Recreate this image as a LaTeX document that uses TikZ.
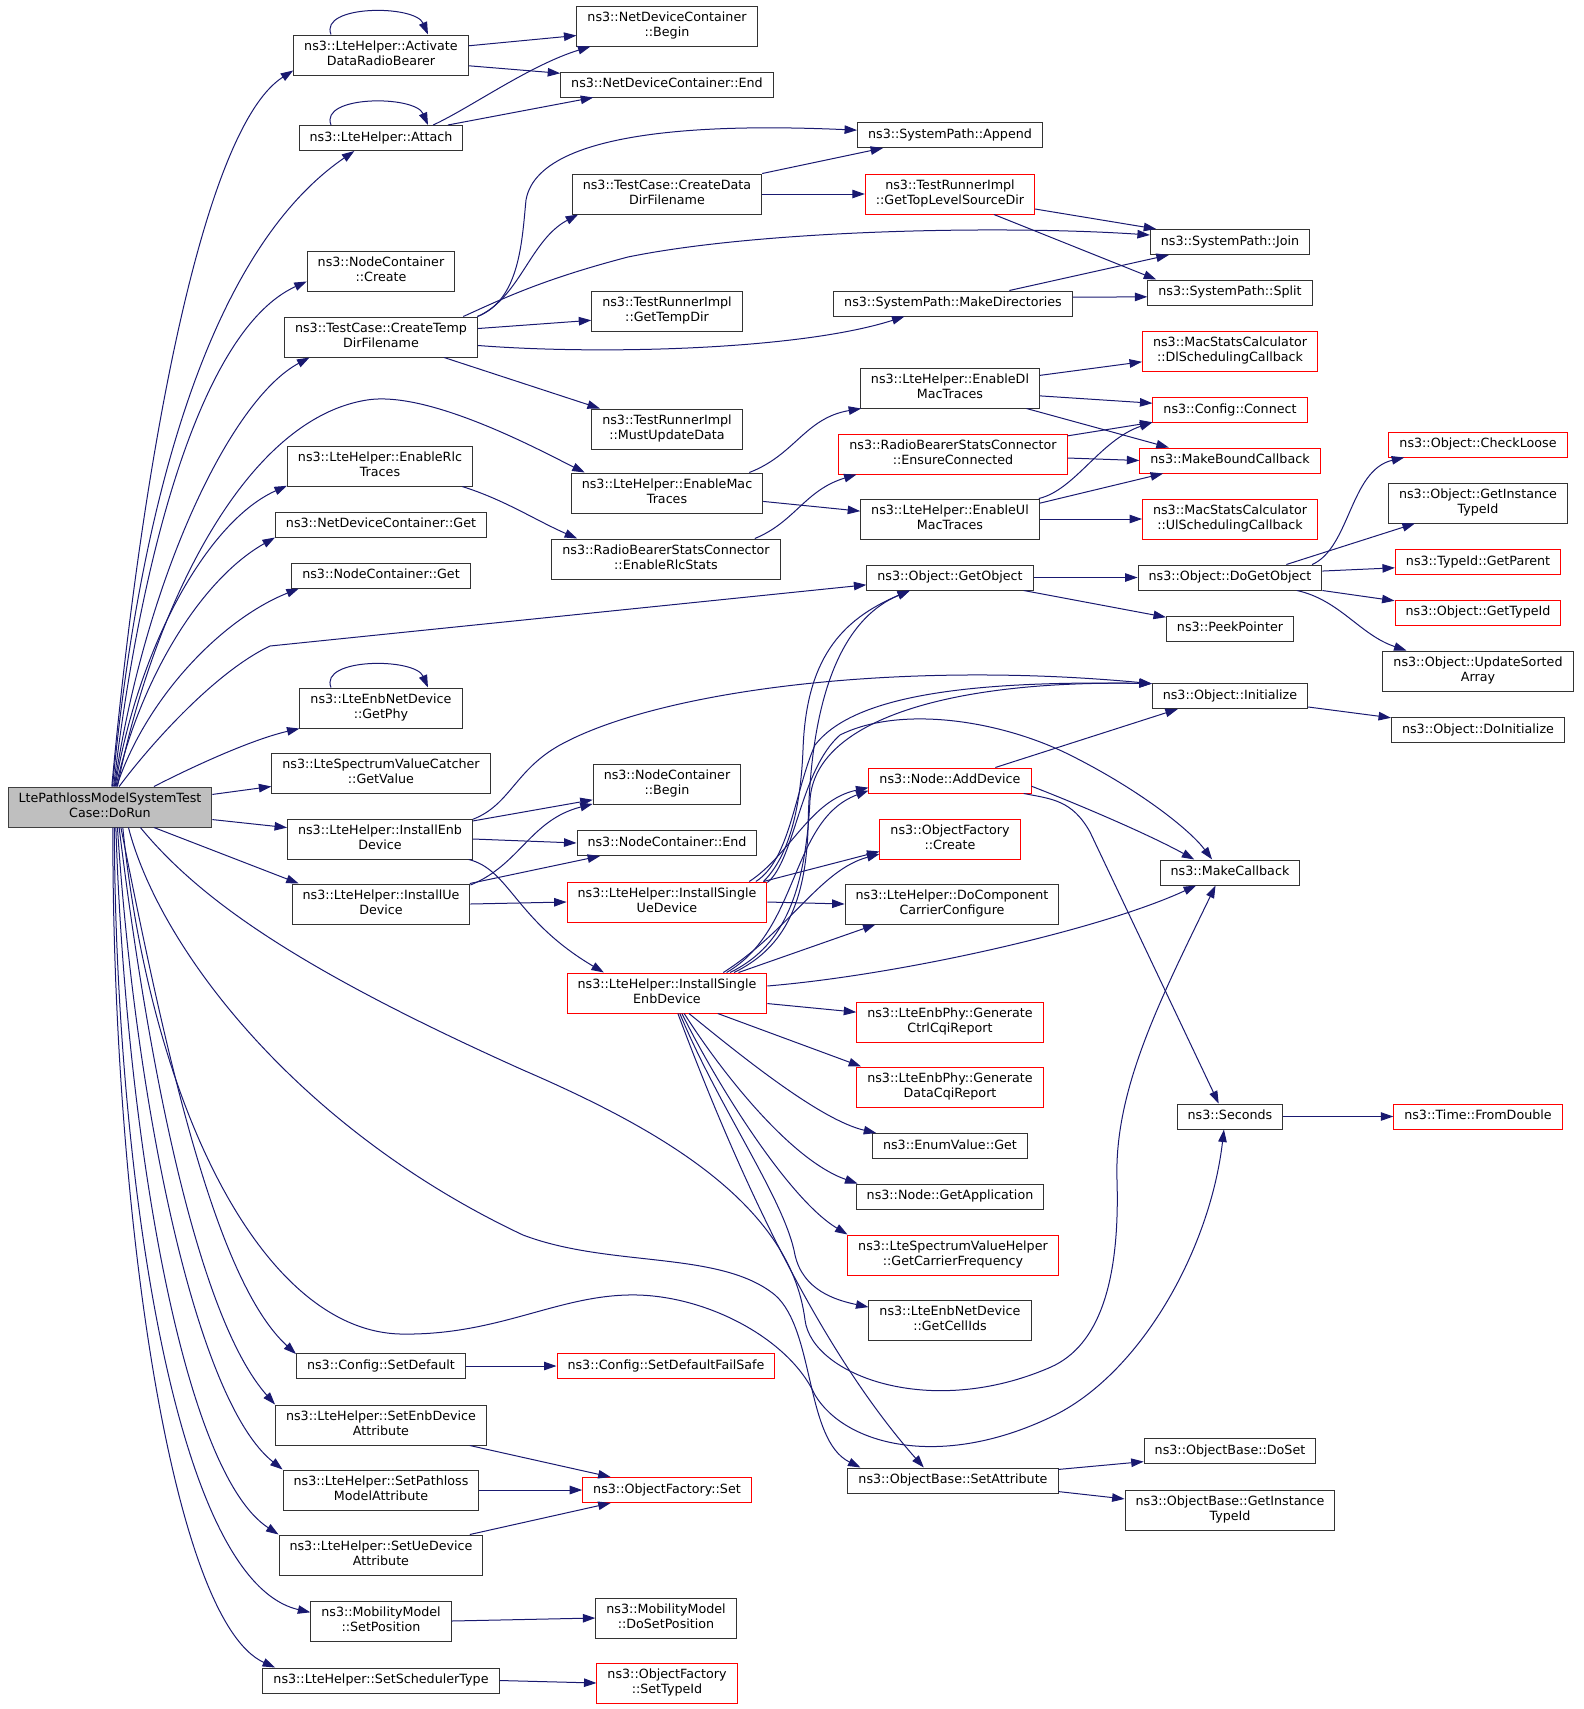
\documentclass[tikz,border=0pt]{standalone}
\usepackage{fontspec}
\usetikzlibrary{arrows.meta,calc}
\newfontfamily\dotfont{DejaVu Sans}
\definecolor{edgeblue}{HTML}{191970}
\definecolor{rootfill}{HTML}{BFBFBF}
\def\fnsize{12.7}
\newcommand{\twoline}[2]{\strut#1\\\strut#2}

\begin{document}
\begin{tikzpicture}[x=1pt,y=-1pt,>={Triangle[length=12.5pt,width=8.5pt]}]
    \tikzstyle{fn}=[rectangle,draw=black!80,line width=1pt,font={\dotfont\fontsize{\fnsize}{15}\selectfont},align=center,inner xsep=10.5pt,inner ysep=5pt,execute at begin node=\strut]
    \tikzstyle{red fn}=[fn,draw=red]
    \tikzstyle{root fn}=[fn,fill=rootfill,draw=black!75]
    \tikzstyle{edge}=[->,draw=edgeblue,line width=1pt]

    \useasboundingbox (0,0) rectangle (1584,1709);

    % The function that is graphed
    \node[root fn] (dorun) at (110,807) {\twoline{LtePathlossModelSystemTest}{Case::DoRun}};

    % Draw the documented callees
    \foreach \name/\x/\y/\txt in {
        adrb/381/55/{\twoline{ns3::LteHelper::Activate}{DataRadioBearer}},
        attach/381/138/{ns3::LteHelper::Attach},
        ncCreate/381/271/{\twoline{ns3::NodeContainer}{::Create}},
        tmpDir/381/337/{\twoline{ns3::TestCase::CreateTemp}{DirFilename}},
        rlcTr/380/466/{\twoline{ns3::LteHelper::EnableRlc}{Traces}},
        ndcGet/381/524.5/{ns3::NetDeviceContainer::Get},
        ncGet/381/575.5/{ns3::NodeContainer::Get},
        getPhy/381/708/{\twoline{ns3::LteEnbNetDevice}{::GetPhy}},
        getVal/381/773/{\twoline{ns3::LteSpectrumValueCatcher}{::GetValue}},
        instEnb/380/839/{\twoline{ns3::LteHelper::InstallEnb}{Device}},
        instUe/381/904/{\twoline{ns3::LteHelper::InstallUe}{Device}},
        setDef/381/1366/{ns3::Config::SetDefault},
        setEnbAttr/381/1425/{\twoline{ns3::LteHelper::SetEnbDevice}{Attribute}},
        setPlAttr/381/1490/{\twoline{ns3::LteHelper::SetPathloss}{ModelAttribute}},
        setUeAttr/381/1555/{\twoline{ns3::LteHelper::SetUeDevice}{Attribute}},
        setPos/381/1621/{\twoline{ns3::MobilityModel}{::SetPosition}},
        setSched/381/1680.5/{ns3::LteHelper::SetSchedulerType},
        ndcBegin/667/26/{\twoline{ns3::NetDeviceContainer}{::Begin}},
        ndcEnd/667/84.5/{ns3::NetDeviceContainer::End},
        dataDir/667/194/{\twoline{ns3::TestCase::CreateData}{DirFilename}},
        tempDir/667/311/{\twoline{ns3::TestRunnerImpl}{::GetTempDir}},
        mustUpd/667/429/{\twoline{ns3::TestRunnerImpl}{::MustUpdateData}},
        macTr/667/493/{\twoline{ns3::LteHelper::EnableMac}{Traces}},
        rlcStats/666/559/{\twoline{ns3::RadioBearerStatsConnector}{::EnableRlcStats}},
        ncBegin/667/784/{\twoline{ns3::NodeContainer}{::Begin}},
        ncEnd/667/843/{ns3::NodeContainer::End},
        doSetPos/666/1618/{\twoline{ns3::MobilityModel}{::DoSetPosition}},
        append/950/135/{ns3::SystemPath::Append},
        mkDirs/953/303.5/{ns3::SystemPath::MakeDirectories},
        dlMac/950/388/{\twoline{ns3::LteHelper::EnableDl}{MacTraces}},
        ulMac/950/519/{\twoline{ns3::LteHelper::EnableUl}{MacTraces}},
        getObj/950/577.5/{ns3::Object::GetObject},
        ccConf/952/904/{\twoline{ns3::LteHelper::DoComponent}{CarrierConfigure}},
        enumGet/950/1146/{ns3::EnumValue::Get},
        getApp/950/1196.5/{ns3::Node::GetApplication},
        cellIds/950/1320/{\twoline{ns3::LteEnbNetDevice}{::GetCellIds}},
        setAttr/953/1480.5/{ns3::ObjectBase::SetAttribute},
        join/1230/242/{ns3::SystemPath::Join},
        split/1230/292.5/{ns3::SystemPath::Split},
        doGetObj/1230/577.5/{ns3::Object::DoGetObject},
        peek/1230/628.5/{ns3::PeekPointer},
        init/1230/696/{ns3::Object::Initialize},
        mkCb/1230/872.5/{ns3::MakeCallback},
        seconds/1230/1116.5/{ns3::Seconds},
        doSet/1230/1451/{ns3::ObjectBase::DoSet},
        obGetTid/1230/1510/{\twoline{ns3::ObjectBase::GetInstance}{TypeId}},
        objGetTid/1478/503/{\twoline{ns3::Object::GetInstance}{TypeId}},
        updSorted/1478/671/{\twoline{ns3::Object::UpdateSorted}{Array}},
        doInit/1478/730/{ns3::Object::DoInitialize}}
        \node[fn] (\name) at (\x,\y) {\txt};

    % Draw the callees whose graph was truncated
    \foreach \name/\x/\y/\txt in {
        singleUe/667/902/{\twoline{ns3::LteHelper::InstallSingle}{UeDevice}},
        singleEnb/667/993/{\twoline{ns3::LteHelper::InstallSingle}{EnbDevice}},
        failSafe/666/1366/{ns3::Config::SetDefaultFailSafe},
        ofSet/667/1490/{ns3::ObjectFactory::Set},
        setTid/667/1683/{\twoline{ns3::ObjectFactory}{::SetTypeId}},
        topDir/950/194/{\twoline{ns3::TestRunnerImpl}{::GetTopLevelSourceDir}},
        ensure/953/454/{\twoline{ns3::RadioBearerStatsConnector}{::EnsureConnected}},
        addDev/950/780.5/{ns3::Node::AddDevice},
        ofCreate/950/839/{\twoline{ns3::ObjectFactory}{::Create}},
        ctrlCqi/950/1022/{\twoline{ns3::LteEnbPhy::Generate}{CtrlCqiReport}},
        dataCqi/950/1087/{\twoline{ns3::LteEnbPhy::Generate}{DataCqiReport}},
        carrFreq/953/1255/{\twoline{ns3::LteSpectrumValueHelper}{::GetCarrierFrequency}},
        dlSched/1230/351/{\twoline{ns3::MacStatsCalculator}{::DlSchedulingCallback}},
        connect/1230/410/{ns3::Config::Connect},
        mkBound/1230/460.5/{ns3::MakeBoundCallback},
        ulSched/1230/519/{\twoline{ns3::MacStatsCalculator}{::UlSchedulingCallback}},
        checkLoose/1478/444.5/{ns3::Object::CheckLoose},
        getParent/1478/562/{ns3::TypeId::GetParent},
        getTypeId/1478/612.5/{ns3::Object::GetTypeId},
        fromDbl/1478/1116.5/{ns3::Time::FromDouble}}
        \node[red fn] (\name) at (\x,\y) {\txt};

    % Straight calls
    \foreach \src/\dst in {
        adrb.6/ndcBegin.186, adrb.-7/ndcEnd.174, attach.11/ndcEnd.190,
        tmpDir.5/tempDir.187, tmpDir.-18/mustUpd.163,
        dataDir.north east/append.191, dataDir.east/topDir.west,
        topDir.-10/join.170, topDir.-25/split.170,
        mkDirs.13/join.192, mkDirs.3/split.183,
        macTr.-5/ulMac.175,
        dlMac.8/dlSched.187, dlMac.-5/connect.175, dlMac.-15/mkBound.168,
        ensure.9/connect.189, ensure.-2/mkBound.west,
        ulMac.10/mkBound.191, ulMac.east/ulSched.west,
        getObj.east/doGetObj.west, getObj.-10/peek.170,
        doGetObj.13/objGetTid.198, doGetObj.4/getParent.184, doGetObj.south east/getTypeId.172,
        init.-8/doInit.172, addDev.16/init.194,
        seconds.east/fromDbl.west, setDef.east/failSafe.west,
        setEnbAttr.-13/ofSet.167, setPlAttr.east/ofSet.west, setUeAttr.13/ofSet.193,
        setPos.east/doSetPos.west, setSched.east/setTid.west,
        setAttr.6/doSet.187, setAttr.-6/obGetTid.174,
        instEnb.11/ncBegin.192, instEnb.east/ncEnd.west,
        instUe.13/ncEnd.191, instUe.east/singleUe.west,
        singleUe.12/ofCreate.190, singleUe.east/ccConf.west,
        singleEnb.16/ccConf.195, singleEnb.-6/ctrlCqi.174, singleEnb.-22/dataCqi.167,
        dorun.7/getVal.187, dorun.-7/instEnb.173, dorun.-25/instUe.166}
        \draw[edge] (\src) -- (\dst);

    % Recursive calls
    \foreach \name in {adrb,attach,getPhy}
        \draw[edge] ($(\name.north)+(-50,0)$) .. controls +(-12,-30) and +(-13,-30) .. ($(\name.north)+(47,0)$);

    % Calls out of DoRun, upwards
    \draw[edge] (dorun.85) .. controls (140,480) and (200,130) .. (adrb.190);
    \draw[edge] (dorun.83) .. controls (140,500) and (210,250) .. (attach.206);
    \draw[edge] (dorun.80) .. controls (140,560) and (200,330) .. (ncCreate.188);
    \draw[edge] (dorun.78) .. controls (145,580) and (230,400) .. (tmpDir.196);
    \draw[edge] (dorun.70) .. controls (150,620) and (240,420) .. (367,400)
        .. controls (430,390) and (545,453) .. (macTr.166);
    \draw[edge] (dorun.76) .. controls (140,640) and (210,520) .. (rlcTr.192);
    \draw[edge] (dorun.74) .. controls (140,680) and (200,580) .. (ndcGet.south west);
    \draw[edge] (dorun.72) .. controls (145,700) and (220,620) .. (ncGet.189);
    \draw[edge] (dorun.66) .. controls (150,745) and (215,672) .. (270,646) -- (getObj.185);
    \draw[edge] (dorun.25) .. controls (190,768) and (250,740) .. (getPhy.south west);

    % Calls out of DoRun, downwards
    \draw[edge] (dorun.-62) .. controls (165,1050) and (215,1280) .. (setDef.172);
    \draw[edge] (dorun.-66) .. controls (150,1080) and (200,1320) .. (setEnbAttr.north west);
    \draw[edge] (dorun.-70) .. controls (135,1100) and (195,1400) .. (setPlAttr.north west);
    \draw[edge] (dorun.-74) .. controls (125,1120) and (180,1470) .. (setUeAttr.north west);
    \draw[edge] (dorun.-78) .. controls (115,1150) and (170,1580) .. (setPos.173);
    \draw[edge] (dorun.-82) .. controls (112,1200) and (170,1620) .. (setSched.173);
    \draw[edge] (dorun.-58) .. controls (150,1100) and (260,1330) .. (400,1334)
        .. controls (500,1336) and (560,1293) .. (638,1295)
        .. controls (710,1297) and (790,1340) .. (815,1395)
        .. controls (845,1445) and (940,1470) .. (1051,1417)
        .. controls (1140,1375) and (1210,1250) .. (seconds.-115);
    \draw[edge] (dorun.-34) .. controls (200,900) and (300,970) .. (523,1070)
        .. controls (650,1125) and (790,1200) .. (805,1320)
        .. controls (812,1375) and (930,1420) .. (1051,1367)
        .. controls (1100,1345) and (1120,1280) .. (1117,1180)
        .. controls (1114,1090) and (1160,1000) .. (mkCb.-138);
    \draw[edge] (dorun.-48) .. controls (160,950) and (300,1130) .. (523,1235)
        .. controls (610,1268) and (720,1250) .. (775,1295)
        .. controls (815,1330) and (805,1440) .. (setAttr.172);

    % Other bent calls
    \draw[edge] (attach.14) .. controls (470,108) and (530,65) .. (ndcBegin.195);
    \draw[edge] (tmpDir.12) .. controls (520,300) and (522,240) .. (526,200)
        .. controls (540,120) and (760,126) .. (append.177);
    \draw[edge] (tmpDir.12) .. controls (520,298) and (530,240) .. (dataDir.193);
    \draw[edge] (tmpDir.14) .. controls (500,300) and (540,280) .. (628,257)
        .. controls (760,230) and (1000,225) .. (join.175);
    \draw[edge] (tmpDir.-5) .. controls (600,355) and (800,350) .. (mkDirs.-165);
    \draw[edge] (macTr.14) .. controls (795,455) and (805,418) .. (dlMac.193);
    \draw[edge] (rlcTr.-14) .. controls (505,500) and (535,520) .. (rlcStats.167);
    \draw[edge] (rlcStats.13) .. controls (795,522) and (805,490) .. (ensure.192);
    \draw[edge] (ulMac.13) .. controls (1075,490) and (1100,440) .. (connect.189);
    \draw[edge] (doGetObj.9) .. controls (1350,548) and (1350,470) .. (checkLoose.190);
    \draw[edge] (doGetObj.-11) .. controls (1340,600) and (1360,635) .. (updSorted.164);
    \draw[edge] (instEnb.12) .. controls (510,805) and (515,770) .. (560,745)
        .. controls (660,690) and (900,660) .. (init.171);
    \draw[edge] (instEnb.-13) .. controls (510,870) and (515,920) .. (singleEnb.162);
    \draw[edge] (instUe.12) .. controls (520,865) and (530,820) .. (ncBegin.195);

    % Calls out of the single device installers
    \draw[edge] (singleUe.12) .. controls (785,860) and (800,820) .. (803,750)
        .. controls (806,660) and (840,620) .. (getObj.-162);
    \draw[edge] (singleUe.13) .. controls (790,860) and (795,790) .. (815,745)
        .. controls (850,700) and (950,680) .. (init.171);
    \draw[edge] (singleUe.14) .. controls (790,855) and (810,800) .. (addDev.185);
    \draw[edge] (singleUe.11) .. controls (795,860) and (800,770) .. (840,735)
        .. controls (900,705) and (1000,720) .. (1070,755)
        .. controls (1140,790) and (1190,830) .. (mkCb.144);
    \draw[edge] (singleEnb.17) .. controls (780,950) and (805,910) .. (808,830)
        .. controls (810,700) and (840,620) .. (getObj.-162);
    \draw[edge] (singleEnb.18) .. controls (780,948) and (805,900) .. (810,800)
        .. controls (815,720) and (950,680) .. (init.171);
    \draw[edge] (singleEnb.19) .. controls (800,930) and (790,820) .. (addDev.187);
    \draw[edge] (singleEnb.20) .. controls (790,930) and (820,870) .. (ofCreate.192);
    \draw[edge] (singleEnb.4) .. controls (900,975) and (1100,930) .. (mkCb.-159);
    \draw[edge] (singleEnb.-43) .. controls (740,1055) and (820,1120) .. (enumGet.170);
    \draw[edge] (singleEnb.-50) .. controls (720,1070) and (790,1160) .. (getApp.172);
    \draw[edge] (singleEnb.-54) .. controls (720,1090) and (790,1200) .. (carrFreq.169);
    \draw[edge] (singleEnb.-58) .. controls (720,1110) and (785,1200) .. (795,1255)
        .. controls (803,1290) and (835,1300) .. (cellIds.171);
    \draw[edge] (singleEnb.-62) .. controls (740,1180) and (820,1350) .. (setAttr.156);

    % Calls out of AddDevice
    \draw[edge] (addDev.-4) .. controls (1080,805) and (1150,835) .. (mkCb.160);
    \draw[edge] (addDev.-10) .. controls (1052,799) and (1072,800) .. (1090,832) -- (seconds.131);
\end{tikzpicture}
\end{document}
